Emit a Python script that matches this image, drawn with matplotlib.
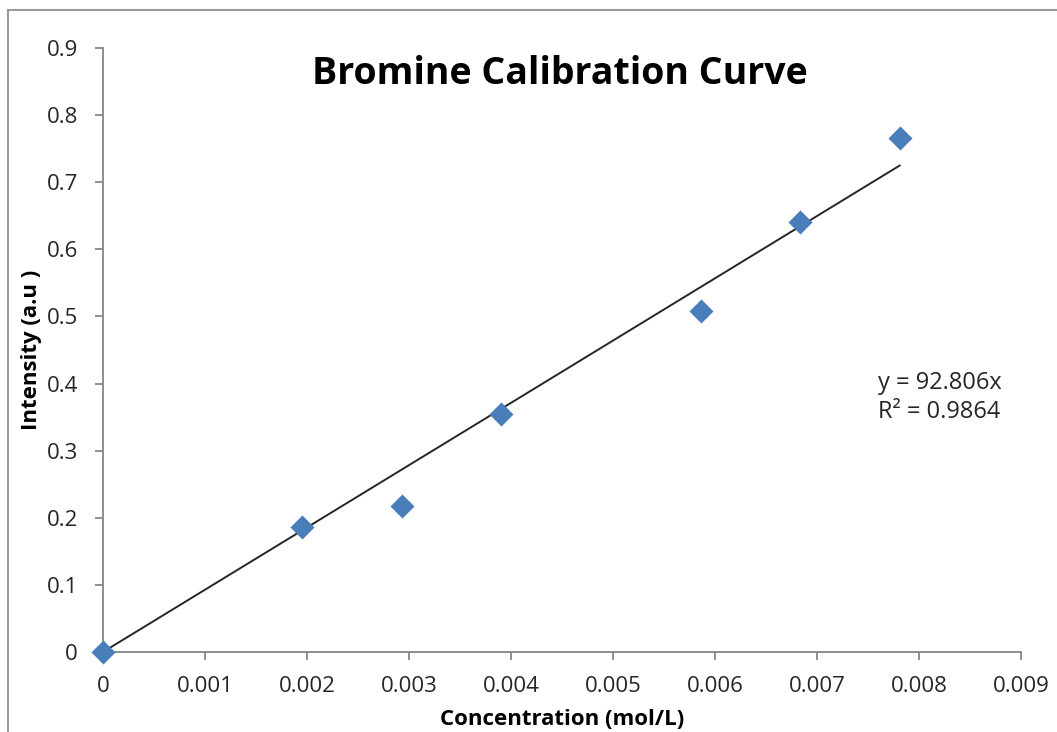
import numpy as np
import matplotlib
matplotlib.use('Agg')
import matplotlib.pyplot as plt
from matplotlib.patches import Rectangle

# Calibration data
concentration = [0.0, 0.00195, 0.00293, 0.0039, 0.00586, 0.00683, 0.00781]
intensity = [0.0, 0.187, 0.217, 0.354, 0.508, 0.641, 0.766]
slope = 92.806
r_squared = 0.9864

x_ticks = [0, 0.001, 0.002, 0.003, 0.004, 0.005, 0.006, 0.007, 0.008, 0.009]
y_ticks = [0, 0.1, 0.2, 0.3, 0.4, 0.5, 0.6, 0.7, 0.8, 0.9]

plt.rcParams['font.family'] = ['Open Sans', 'DejaVu Sans']
axis_grey = '#868686'

fig = plt.figure(figsize=(10.57, 7.32), dpi=100)
ax = fig.add_axes([103 / 1057, 1 - 652 / 732, (1021 - 103) / 1057, (652 - 48) / 732])

# outer chart border like an Excel chart area
fig.patches.append(Rectangle((8 / 1057, -0.01), 1.1, 1 - 10 / 732 + 0.01,
                             transform=fig.transFigure, fill=False,
                             edgecolor='#9a9a9a', linewidth=1.5))

# trendline through the origin
fit_x = np.array([0.0, max(concentration)])
ax.plot(fit_x, slope * fit_x, color='#262626', linewidth=1.4, zorder=2)

ax.scatter(concentration, intensity, marker='D', s=150, color='#4a7ebb',
           linewidths=0, zorder=3, clip_on=False)

ax.set_xlim(0, 0.009)
ax.set_ylim(0, 0.9)
ax.set_xticks(x_ticks)
ax.set_xticklabels(['0' if t == 0 else f'{t:.3f}' for t in x_ticks])
ax.set_yticks(y_ticks)
ax.set_yticklabels(['0' if t == 0 else f'{t:.1f}' for t in y_ticks])

for side in ['top', 'right']:
    ax.spines[side].set_visible(False)
for side in ['left', 'bottom']:
    ax.spines[side].set_color(axis_grey)
    ax.spines[side].set_linewidth(1.3)
ax.tick_params(direction='out', length=6, width=1.3, color=axis_grey,
               labelsize=16, labelcolor='#262626')
ax.tick_params(axis='x', pad=11)
ax.tick_params(axis='y', pad=12)

ax.set_xlabel('Concentration (mol/L)', fontsize=16, fontweight='bold', labelpad=9)
ax.set_ylabel('Intensity (a.u )', fontsize=16, fontweight='bold', labelpad=3)

ax.text(0.00448, 0.862, 'Bromine Calibration Curve', fontsize=27,
        fontweight='bold', ha='center', va='center', color='black')

ax.text(0.0082, 0.401, f'y = {slope}x', fontsize=17, ha='center', va='center', color='#262626')
ax.text(0.0082, 0.358, f'R² = {r_squared}', fontsize=17, ha='center', va='center', color='#262626')

plt.savefig('out.png', dpi=100)
plt.close()
